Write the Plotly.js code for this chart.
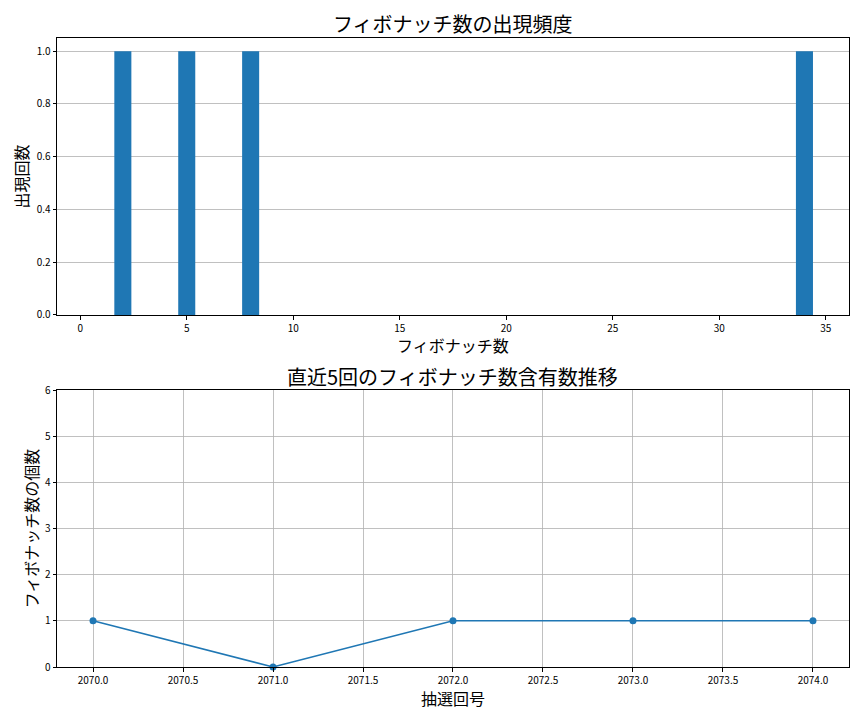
<!DOCTYPE html>
<html>
<head>
<meta charset="utf-8">
<script src="https://cdn.plot.ly/plotly-3.0.1.min.js"></script>
<style>
  html, body { margin: 0; padding: 0; background: #fff; }
  #chart { width: 864px; height: 720px; }
</style>
</head>
<body>
<div id="chart"></div>
<script>
// フィボナッチ数ごとの出現回数
const fibNumbers = [1, 2, 3, 5, 8, 13, 21, 34];
const fibCounts = [0, 1, 0, 1, 1, 0, 0, 1];

// 直近5回の推移
const drawNumbers = [2070, 2071, 2072, 2073, 2074];
const fibPerDraw = [1, 0, 1, 1, 1];

const titles = {
  top: 'フィボナッチ数の出現頻度',
  topX: 'フィボナッチ数',
  topY: '出現回数',
  bottom: '直近5回のフィボナッチ数含有数推移',
  bottomX: '抽選回号',
  bottomY: 'フィボナッチ数の個数',
};

const FONT = '"Noto Sans CJK JP", "Noto Sans", sans-serif';
const BLUE = '#1f77b4';
const GRID = '#b0b0b0';

const axisBase = {
  showline: true,
  linecolor: '#000',
  linewidth: 1,
  mirror: true,
  ticks: 'outside',
  ticklen: 3.5,
  tickcolor: '#000',
  tickfont: { family: FONT, size: 10, color: '#000' },
  zeroline: false,
  gridcolor: GRID,
  gridwidth: 0.8,
};

const traces = [
  {
    type: 'bar',
    x: fibNumbers,
    y: fibCounts,
    width: 0.8,
    marker: { color: BLUE },
    xaxis: 'x',
    yaxis: 'y',
    hoverinfo: 'skip',
  },
  {
    type: 'scatter',
    mode: 'lines+markers',
    x: drawNumbers,
    y: fibPerDraw,
    line: { color: BLUE, width: 1.5 },
    marker: { color: BLUE, size: 7 },
    xaxis: 'x2',
    yaxis: 'y2',
    cliponaxis: false,
    hoverinfo: 'skip',
  },
];

// 文字の共通設定
const note = (text, y, size) => ({
  text,
  xref: 'paper', yref: 'paper',
  x: 0.5243, y,
  xanchor: 'center', yanchor: 'middle',
  showarrow: false,
  borderpad: 0,
  font: { family: FONT, size, color: '#000' },
});

const layout = {
  width: 864,
  height: 720,
  margin: { l: 0, r: 0, t: 0, b: 0 },
  paper_bgcolor: '#fff',
  plot_bgcolor: '#fff',
  showlegend: false,
  font: { family: FONT, color: '#000' },
  xaxis: Object.assign({}, axisBase, {
    domain: [0.066, 0.9826],
    anchor: 'y',
    range: [-1.09, 36.09],
    tickvals: [0, 5, 10, 15, 20, 25, 30, 35],
    showgrid: false,
  }),
  yaxis: Object.assign({}, axisBase, {
    domain: [0.5625, 0.9472],
    anchor: 'x',
    range: [0, 1.05],
    tickvals: [0, 0.2, 0.4, 0.6, 0.8, 1.0],
    ticktext: ['0.0', '0.2', '0.4', '0.6', '0.8', '1.0'],
    showgrid: true,
    title: { text: titles.topY, font: { family: FONT, size: 16 }, standoff: 4 },
  }),
  xaxis2: Object.assign({}, axisBase, {
    domain: [0.066, 0.9826],
    anchor: 'y2',
    range: [2069.8, 2074.2],
    tickvals: [2070, 2070.5, 2071, 2071.5, 2072, 2072.5, 2073, 2073.5, 2074],
    ticktext: ['2070.0', '2070.5', '2071.0', '2071.5', '2072.0', '2072.5', '2073.0', '2073.5', '2074.0'],
    showgrid: true,
  }),
  yaxis2: Object.assign({}, axisBase, {
    domain: [0.0736, 0.4583],
    anchor: 'x2',
    range: [0, 6],
    tickvals: [0, 1, 2, 3, 4, 5, 6],
    showgrid: true,
    title: { text: titles.bottomY, font: { family: FONT, size: 16 }, standoff: 2 },
  }),
  annotations: [
    note(titles.top, 1 - 24 / 720, 20),
    note(titles.topX, 1 - 345 / 720, 16),
    note(titles.bottom, 1 - 376 / 720, 20),
    note(titles.bottomX, 1 - 698 / 720, 16),
  ],
};

Plotly.newPlot('chart', traces, layout, { displayModeBar: false, staticPlot: true });
</script>
</body>
</html>
